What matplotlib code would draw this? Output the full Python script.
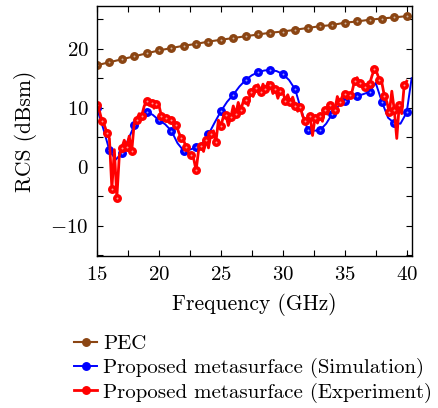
import matplotlib
matplotlib.use("Agg")
import matplotlib.pyplot as plt
import numpy as np
from matplotlib.ticker import MultipleLocator

plt.rcParams["font.family"] = "serif"
plt.rcParams["font.serif"] = ["cmr10"]
plt.rcParams["mathtext.fontset"] = "cm"
plt.rcParams["axes.formatter.use_mathtext"] = True

# PEC reference plate, sampled every 1 GHz
pec_freq = np.arange(15, 41, 1.0)
pec_rcs = [17.2, 17.7, 18.2, 18.7, 19.2, 19.7, 20.1, 20.5, 20.8, 21.2,
           21.5, 21.8, 22.1, 22.4, 22.7, 22.9, 23.2, 23.5, 23.8, 24.0,
           24.4, 24.6, 24.9, 25.1, 25.3, 25.5]

# simulated metasurface, every 0.5 GHz
sim_freq = [15.0, 15.5, 16.0, 16.5, 17.0, 17.5, 18.0, 18.5, 19.0, 19.5,
            20.0, 20.5, 21.0, 21.5, 22.0, 22.5, 23.0, 23.5, 24.0, 24.5,
            25.0, 25.5, 26.0, 26.5, 27.0, 27.5, 28.0, 28.5, 29.0, 29.5,
            30.0, 30.5, 31.0, 31.5, 32.0, 32.5, 33.0, 33.5, 34.0, 34.5,
            35.0, 35.5, 36.0, 36.5, 37.0, 37.5, 38.0, 38.5, 39.0, 39.5,
            40.0, 40.4]
sim_rcs = [9.9, 6.5, 2.8, 1.2, 2.3, 4.5, 7.0, 8.7, 9.3, 8.8,
           7.9, 7.2, 6.1, 4.0, 2.7, 2.9, 3.3, 4.0, 5.5, 7.5,
           9.4, 11.0, 12.2, 13.6, 14.7, 15.5, 16.0, 16.3, 16.4, 16.2,
           15.7, 14.7, 13.1, 9.5, 6.3, 6.1, 6.2, 7.3, 9.0, 10.3,
           11.2, 11.7, 12.0, 12.3, 12.7, 14.2, 11.0, 8.3, 7.4, 7.3,
           9.2, 15.0]

# measured metasurface, every 0.2 GHz from 15 to 40 GHz
exp_rcs = [10.5, 9.4, 7.8, 7.0, 5.8, 4.8, -3.7, 2.9, -5.2, 1.9,
           3.2, 4.5, 3.4, 5.2, 2.6, 7.3, 8.0, 9.0, 8.6, 10.2,
           11.2, 10.4, 10.8, 9.9, 10.6, 10.4, 8.6, 7.9, 8.3, 7.6,
           8.0, 7.4, 7.1, 5.8, 4.9, 4.4, 3.4, 2.4, 2.0, 1.4,
           -0.6, 2.8, 3.6, 2.6, 4.5, 3.2, 5.6, 6.1, 4.2, 7.9,
           6.9, 8.5, 8.8, 7.0, 8.4, 10.3, 8.9, 10.9, 9.6, 11.0,
           11.3, 10.4, 12.7, 11.9, 13.4, 13.9, 12.6, 14.0, 13.1, 14.3,
           13.9, 12.4, 13.2, 11.6, 12.9, 12.7, 11.2, 12.2, 10.9, 11.8,
           10.3, 9.4, 10.2, 8.6, 7.8, 7.4, 8.6, 5.3, 8.3, 7.4,
           8.6, 7.7, 9.6, 8.9, 10.4, 10.2, 9.6, 11.9, 10.9, 11.9,
           12.4, 11.5, 12.2, 12.8, 14.6, 15.1, 14.2, 14.0, 13.5, 13.3,
           14.0, 15.4, 16.6, 15.9, 14.7, 14.2, 12.0, 11.0, 9.2, 12.8,
           9.6, 4.8, 10.5, 9.0, 13.8, 14.5]
exp_freq = np.linspace(15.0, 40.0, len(exp_rcs))

sim_marks = [float(f).is_integer() for f in sim_freq]

fig = plt.figure(figsize=(4.39, 4.08), dpi=100)
ax = fig.add_axes([0.221, 0.3725, 0.7175, 0.6125])


def shaded(x, y, color, lw, every, label):
    # colored circle markers with a light centre
    ax.plot(x, y, color=color, lw=lw, marker="o", ms=5.4, mec=color,
            mfc=color, markevery=every, label=label)
    ax.plot(x, y, ls="none", marker="o", ms=1.4, mec="none",
            mfc="white", alpha=0.6, markevery=every)


shaded(pec_freq, pec_rcs, "#8b4513", 1.5, 1, "PEC")
shaded(sim_freq, sim_rcs, "blue", 1.4, sim_marks,
       "Proposed metasurface (Simulation)")
shaded(exp_freq, exp_rcs, "red", 2.0, 2,
       "Proposed metasurface (Experiment)")

ax.set_xlim(15, 40.43)
ax.set_ylim(-15.1, 27.2)
ax.xaxis.set_major_locator(MultipleLocator(5))
ax.xaxis.set_minor_locator(MultipleLocator(2.5))
ax.yaxis.set_major_locator(MultipleLocator(10))
ax.yaxis.set_minor_locator(MultipleLocator(5))
ax.tick_params(which="both", direction="in", top=True, right=True,
               length=4, width=0.8, labelsize=15)
ax.tick_params(axis="x", pad=7)
ax.tick_params(axis="y", pad=6)
for s in ax.spines.values():
    s.set_linewidth(1.0)

ax.set_xlabel("Frequency (GHz)", fontsize=15.5, labelpad=7)
ax.set_ylabel("RCS (dBsm)", fontsize=15.5, labelpad=10)

fig.legend(loc="upper left", bbox_to_anchor=(0.15, 0.2), frameon=False,
           fontsize=15, handlelength=1.1, handletextpad=0.3,
           labelspacing=0.22, borderaxespad=0)

fig.savefig("out.png", dpi=100)
